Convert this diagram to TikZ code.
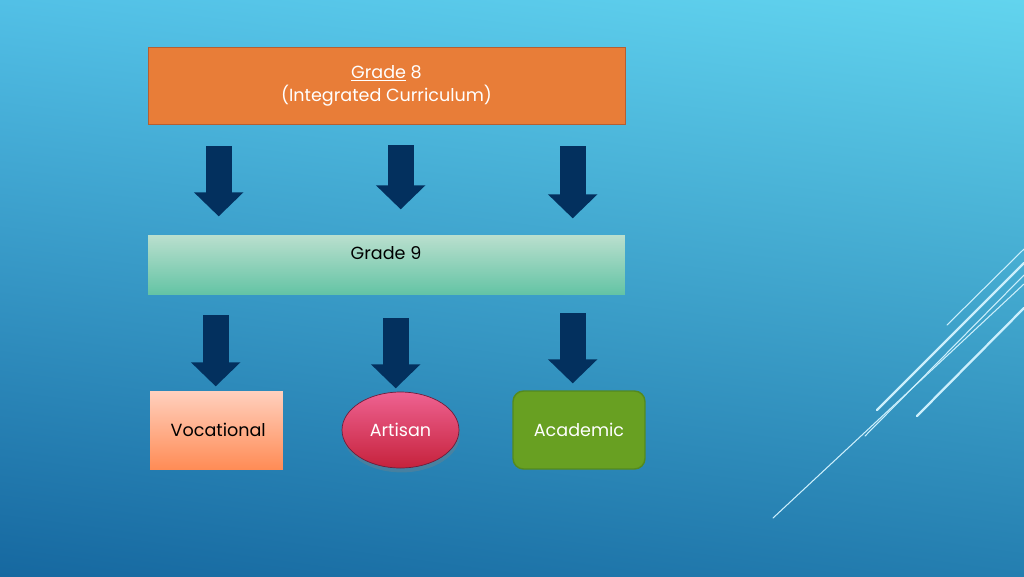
\documentclass[tikz,border=0pt]{standalone}
\usepackage{fontspec}
\setmainfont{Poppins}
\usetikzlibrary{arrows.meta,calc,shapes.geometric,shadows,shadings}
\tikzset{
  band/.style={minimum width=9.54cm, inner sep=0pt},
  pick/.style={minimum width=2.66cm, minimum height=1.56cm, inner sep=0pt, font=\fontsize{10}{12}\selectfont},
  flow/.style={-{Triangle[length=0.48cm, width=0.96cm]}, line width=0.52cm, navyD},
  streak/.style={white!80!cyan, line cap=round, line width=0.6pt},
  streakB/.style={streak, line width=1.3pt},
}
\definecolor{bgTL}{RGB}{82,192,230}
\definecolor{bgTR}{RGB}{98,212,238}
\definecolor{bgBL}{RGB}{22,104,160}
\definecolor{bgBR}{RGB}{36,126,176}
\definecolor{orng}{RGB}{232,125,56}
\definecolor{orngD}{RGB}{180,95,50}
\definecolor{mintL}{RGB}{186,223,206}
\definecolor{mint}{RGB}{100,196,165}
\definecolor{peachL}{RGB}{255,208,190}
\definecolor{peach}{RGB}{255,140,86}
\definecolor{rose}{RGB}{238,98,145}
\definecolor{roseD}{RGB}{198,34,60}
\definecolor{plum}{RGB}{110,30,60}
\definecolor{leaf}{RGB}{104,160,34}
\definecolor{leafD}{RGB}{84,138,30}
\definecolor{navyD}{RGB}{3,48,94}

\begin{document}
\begin{tikzpicture}[x=0.02cm, y=-0.02cm]
  \shade[upper left=bgTL, upper right=bgTR, lower left=bgBL, lower right=bgBR] (0,0) rectangle (1024,576);
  \useasboundingbox (0,0) rectangle (1024,576);
  % levels
  \node[band, fill=orng, draw=orngD, minimum height=1.54cm, align=center, text=white,
        font=\fontsize{10}{13}\selectfont] (g8) at (386.5,85.5) {\underline{Grade} 8\\(Integrated Curriculum)};
  \node[band, top color=mintL, middle color=mintL!55!mint, bottom color=mint, minimum height=1.18cm] (g9) at (386.5,264.5) {};
  \node[font=\fontsize{10}{12}\selectfont] (g9lbl) at (386,253) {Grade 9};
  % pathways
  \node[pick, top color=peachL, bottom color=peach] (voc) at (216.5,430) {\hspace{2pt}Vocational};
  \node[pick, ellipse, minimum width=2.34cm, minimum height=1.52cm, top color=rose, bottom color=roseD,
        draw=plum, text=white, drop shadow={shadow xshift=0.6pt, shadow yshift=-2.5pt, opacity=0.35}] (art) at (400.5,430) {Artisan};
  \node[pick, minimum width=2.64cm, fill=leaf, draw=leafD, thick, rounded corners=6pt, text=white] (acad) at (579,430) {Academic};
  % arrows
  \foreach \dx/\ta/\tb in {71/22/92, 253/21/85, 425/22/94}
    \draw[flow] ($(g8.south west)+(\dx,\ta)$) -- ($(g8.south west)+(\dx,\tb)$);
  \foreach \dx/\ta/\tb in {68/21/92, 248/24/94, 425/19/89}
    \draw[flow] ($(g9.south west)+(\dx,\ta)$) -- ($(g9.south west)+(\dx,\tb)$);
  % corner streaks
  \draw[streak] (947,325) -- (1024,249);
  \draw[streakB] (877,410) -- (1024,263);
  \draw[streak] (865,436) -- (1024,275);
  \draw[streak] (773,518) -- (1024,284);
  \draw[streakB] (917,416) -- (1024,308);
\end{tikzpicture}
\end{document}
